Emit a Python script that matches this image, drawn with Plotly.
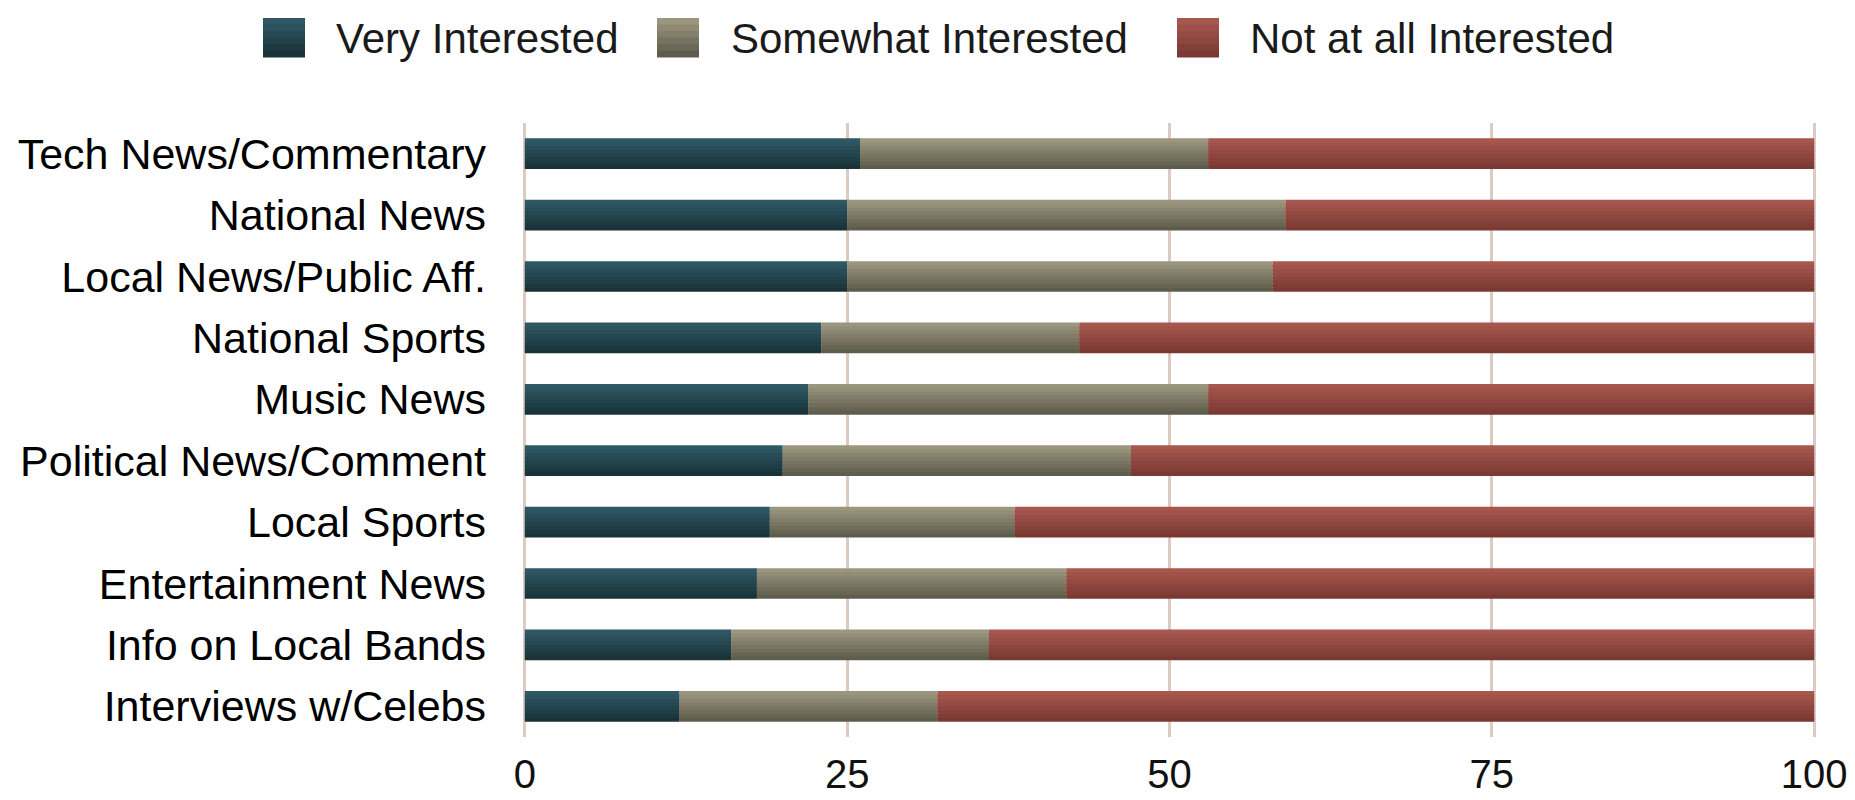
import plotly.graph_objects as go

categories = [
    "Tech News/Commentary",
    "National News",
    "Local News/Public Aff.",
    "National Sports",
    "Music News",
    "Political News/Comment",
    "Local Sports",
    "Entertainment News",
    "Info on Local Bands",
    "Interviews w/Celebs",
]
very_interested = [26, 25, 25, 23, 22, 20, 19, 18, 16, 12]
somewhat_interested = [27, 34, 33, 20, 31, 27, 19, 24, 20, 20]
not_interested = [47, 41, 42, 57, 47, 53, 62, 58, 64, 68]
series_names = ["Very Interested", "Somewhat Interested", "Not at all Interested"]
x_ticks = [0, 25, 50, 75, 100]

# gradient end colours (top, bottom) per series
grad = [
    ((0x2f, 0x58, 0x65), (0x19, 0x33, 0x39)),
    ((0x9c, 0x96, 0x7f), (0x5e, 0x5c, 0x4d)),
    ((0xa7, 0x57, 0x4e), (0x7a, 0x3a, 0x33)),
]

FONT = "Liberation Sans, Arial, Helvetica, sans-serif"
N_BANDS = 8
BAR_W = 0.5

def mix(c1, c2, t):
    return "rgb(%d,%d,%d)" % tuple(round(a + (b - a) * t) for a, b in zip(c1, c2))

values = [very_interested, somewhat_interested, not_interested]
bases = [
    [0] * len(categories),
    list(very_interested),
    [a + b for a, b in zip(very_interested, somewhat_interested)],
]

fig = go.Figure()
step = BAR_W / N_BANDS
for s, (vals, base) in enumerate(zip(values, bases)):
    top, bot = grad[s]
    for k in range(N_BANDS):
        t = k / (N_BANDS - 1)
        w = step if k == N_BANDS - 1 else step * 1.7  # overlap to hide seams
        fig.add_trace(go.Bar(
            y=categories,
            x=vals,
            base=base,
            orientation="h",
            name=series_names[s],
            width=w,
            offset=-BAR_W / 2 + k * step,
            marker=dict(color=mix(top, bot, t), line=dict(width=0)),
            showlegend=False,
            legendgroup=series_names[s],
            hoverinfo="skip" if k else "x+y+name",
        ))

W, H = 1855, 800
ML, MR, MT, MB = 522, 38, 123, 63
PW, PH = W - ML - MR, H - MT - MB

def px_x(px):
    return (px - ML) / PW

def px_y(py):
    return (H - MB - py) / PH

# custom legend (swatch + label) at the top
legend_items = [(263, 334), (657, 729), (1177, 1248)]
shapes = []
annotations = []
sw_top, sw_bot, sw_w = 18, 57, 42
for s, (sx, tx) in enumerate(legend_items):
    top, bot = grad[s]
    nb = 6
    for k in range(nb):
        y0 = sw_top + (sw_bot - sw_top) * k / nb
        y1 = sw_top + (sw_bot - sw_top) * (k + 1) / nb
        shapes.append(dict(
            type="rect", xref="paper", yref="paper",
            x0=px_x(sx), x1=px_x(sx + sw_w), y0=px_y(y1 + 0.6), y1=px_y(y0),
            fillcolor=mix(top, bot, k / (nb - 1)), line=dict(width=0), layer="above",
        ))
    annotations.append(dict(
        xref="paper", yref="paper", x=px_x(tx), y=px_y(39),
        xanchor="left", yanchor="middle", showarrow=False,
        text=series_names[s], font=dict(family=FONT, size=42, color="#1a1a1a"),
    ))

fig.update_layout(
    width=W, height=H,
    margin=dict(l=ML, r=MR, t=MT, b=MB, pad=0),
    barmode="overlay",
    plot_bgcolor="white",
    paper_bgcolor="white",
    font=dict(family=FONT, color="#000000"),
    shapes=shapes,
    annotations=annotations,
    showlegend=False,
    xaxis=dict(
        range=[-0.22, 100.22],
        tickvals=x_ticks,
        ticktext=[str(v) for v in x_ticks],
        showgrid=True, gridcolor="#dccac3", gridwidth=2.5,
        zeroline=False, showline=False, ticks="",
        tickfont=dict(family=FONT, size=40, color="#111111"),
        ticklabelstandoff=10,
        automargin=False,
    ),
    yaxis=dict(
        autorange="reversed",
        showgrid=False, zeroline=False, showline=False, ticks="",
        tickfont=dict(family=FONT, size=43, color="#000000"),
        ticklabelstandoff=35,
        automargin=False,
    ),
)

fig.write_html("out.html")
